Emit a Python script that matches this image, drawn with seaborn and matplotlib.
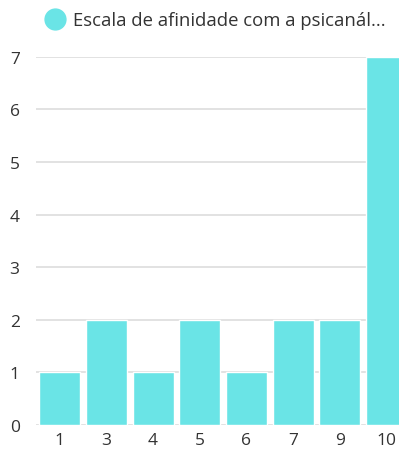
import matplotlib
matplotlib.use("Agg")
import matplotlib.pyplot as plt
from matplotlib.lines import Line2D
import seaborn as sns
import pandas as pd

categories = ["1", "3", "4", "5", "6", "7", "9", "10"]
counts = [1, 2, 1, 2, 1, 2, 2, 7]
series_name = "Escala de afinidade com a psicanál..."
y_ticks = [0, 1, 2, 3, 4, 5, 6, 7]

bar_color = "#6ae4e6"
text_color = "#333333"
grid_color = "#dddddd"

sns.set_theme(style="white")
plt.rcParams["font.family"] = ["Open Sans", "DejaVu Sans"]

W, H = 399, 452
fig = plt.figure(figsize=(W / 100, H / 100), dpi=100)

# plot area in pixels: left edge, bottom edge, pitch per category, pixels per unit
left_px, zero_px, pitch_px, unit_px = 36.3, 426, 46.7, 52.6
ax = fig.add_axes([left_px / W, (H - zero_px) / H,
                   pitch_px * len(categories) / W, unit_px * 7 / H])

df = pd.DataFrame({"categoria": categories, "valor": counts})
sns.barplot(data=df, x="categoria", y="valor", order=categories,
            color=bar_color, saturation=1, width=0.88, ax=ax, zorder=3)

ax.set_xlim(-0.5, len(categories) - 0.5)
ax.set_ylim(0, 7)
ax.set_yticks(y_ticks)
ax.yaxis.grid(True, color=grid_color, linewidth=1.2, zorder=0)
ax.set_axisbelow(True)
for s in ax.spines.values():
    s.set_visible(False)
ax.set_xlabel("")
ax.set_ylabel("")
ax.tick_params(axis="both", length=0, labelsize=12.5, colors=text_color)
ax.tick_params(axis="y", pad=12)
ax.tick_params(axis="x", pad=5)

handle = Line2D([], [], marker="o", linestyle="", markersize=15,
                markerfacecolor=bar_color, markeredgecolor=bar_color)
fig.legend([handle], [series_name], loc="center left",
           bbox_to_anchor=(35 / W, 1 - 21 / H), frameon=False,
           fontsize=13.3, labelcolor=text_color, handletextpad=0.35,
           borderpad=0, handlelength=1.2)

fig.savefig("out.png", dpi=100, facecolor="white")
